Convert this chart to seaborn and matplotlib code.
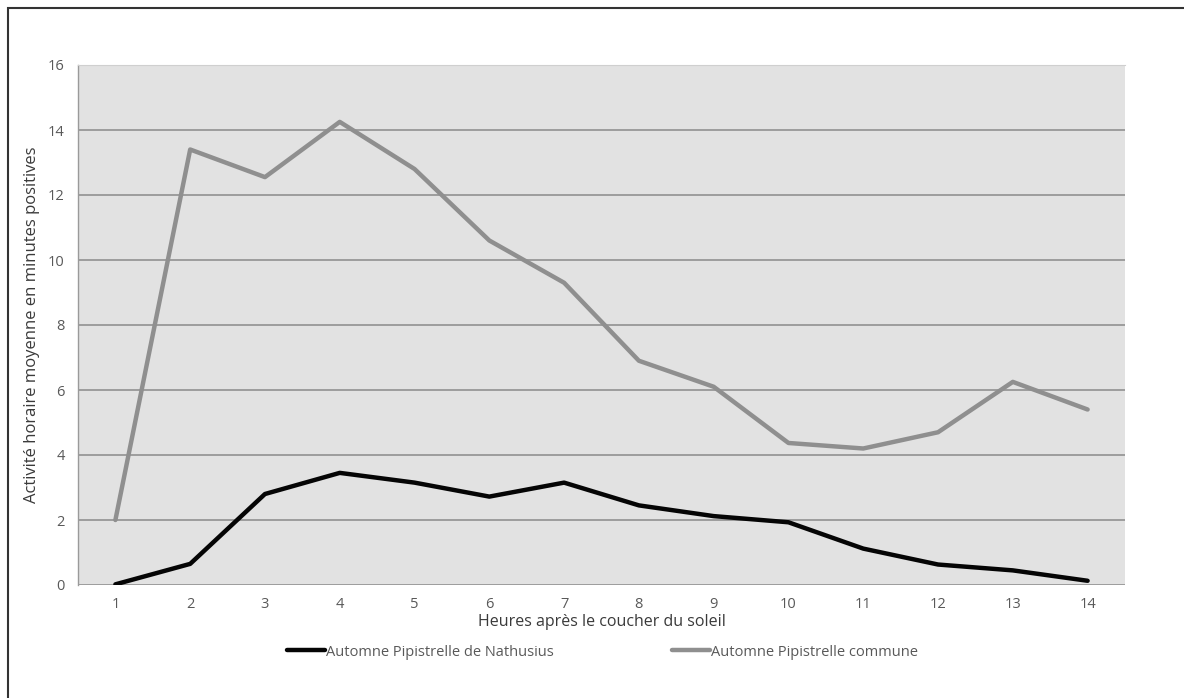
import pandas as pd
import matplotlib.pyplot as plt
import matplotlib.patches as patches
from matplotlib.ticker import MultipleLocator, FixedLocator
import seaborn as sns

# Data
heures = list(range(1, 15))
nathusius = [0.02, 0.65, 2.8, 3.45, 3.15, 2.72, 3.15, 2.45, 2.12, 1.93, 1.12, 0.63, 0.45, 0.13]
commune = [2.0, 13.4, 12.55, 14.25, 12.8, 10.6, 9.3, 6.9, 6.1, 4.37, 4.2, 4.7, 6.25, 5.4]
series_names = ['Automne Pipistrelle de Nathusius', 'Automne Pipistrelle commune']

df = pd.DataFrame({
    'heure': heures * 2,
    'activite': nathusius + commune,
    'serie': [series_names[0]] * len(heures) + [series_names[1]] * len(heures),
})

sns.set_style("white")
plt.rcParams['font.family'] = ['Open Sans', 'DejaVu Sans']

fig = plt.figure(figsize=(11.84, 6.98), dpi=100)
ax = fig.add_axes([78 / 1184, 1 - 585 / 698, (1125 - 78) / 1184, (585 - 65) / 698])
ax.set_facecolor('#e2e2e2')

sns.lineplot(data=df, x='heure', y='activite', hue='serie',
             palette=['#050505', '#8f8f8f'], linewidth=3.2, ax=ax, legend=False,
             zorder=3)

ax.set_xlim(0.5, 14.5)
ax.set_ylim(0, 16)
ax.set_xticks(heures)
ax.xaxis.set_minor_locator(FixedLocator([h + 0.5 for h in range(0, 15)]))
ax.yaxis.set_major_locator(MultipleLocator(2))
ax.yaxis.set_minor_locator(MultipleLocator(0.4))
ax.grid(axis='y', which='major', color='#8a8a8a', linewidth=1.1)
ax.set_axisbelow(True)

for side in ['right', 'bottom']:
    ax.spines[side].set_visible(False)
ax.spines['top'].set_color('#cfcfcf')
ax.spines['left'].set_color('#9a9a9a')
ax.spines['left'].set_linewidth(1.0)

ax.tick_params(axis='x', which='major', length=0, pad=9, labelsize=10.5, labelcolor='#595959')
ax.tick_params(axis='x', which='minor', length=0)
ax.tick_params(axis='y', which='major', length=5, direction='inout', color='#9a9a9a',
               labelsize=10.5, labelcolor='#595959', pad=7)
ax.tick_params(axis='y', which='minor', length=4, direction='inout', color='#9a9a9a')

ax.set_xlabel('Heures après le coucher du soleil', fontsize=11.5, color='#3a3a3a', labelpad=1)
ax.set_ylabel('Activité horaire moyenne en minutes positives', fontsize=12, color='#3a3a3a',
              labelpad=6)

# legend below the plot
handles = [plt.Line2D([], [], color='#050505', linewidth=3.2),
           plt.Line2D([], [], color='#8f8f8f', linewidth=3.2)]
fig.legend(handles, series_names, loc='center', bbox_to_anchor=(0.509, 1 - 652 / 698),
           ncol=2, frameon=False, fontsize=10.5, handlelength=2.6, handletextpad=0.1,
           columnspacing=8.1, labelcolor='#595959')

# outer frame of the chart
fig.patches.append(patches.Rectangle((8 / 1184, -0.1), 1.2, 1.1 - 8 / 698,
                                     transform=fig.transFigure, fill=False,
                                     edgecolor='#333333', linewidth=1.5))

fig.savefig('out.png', dpi=100)
